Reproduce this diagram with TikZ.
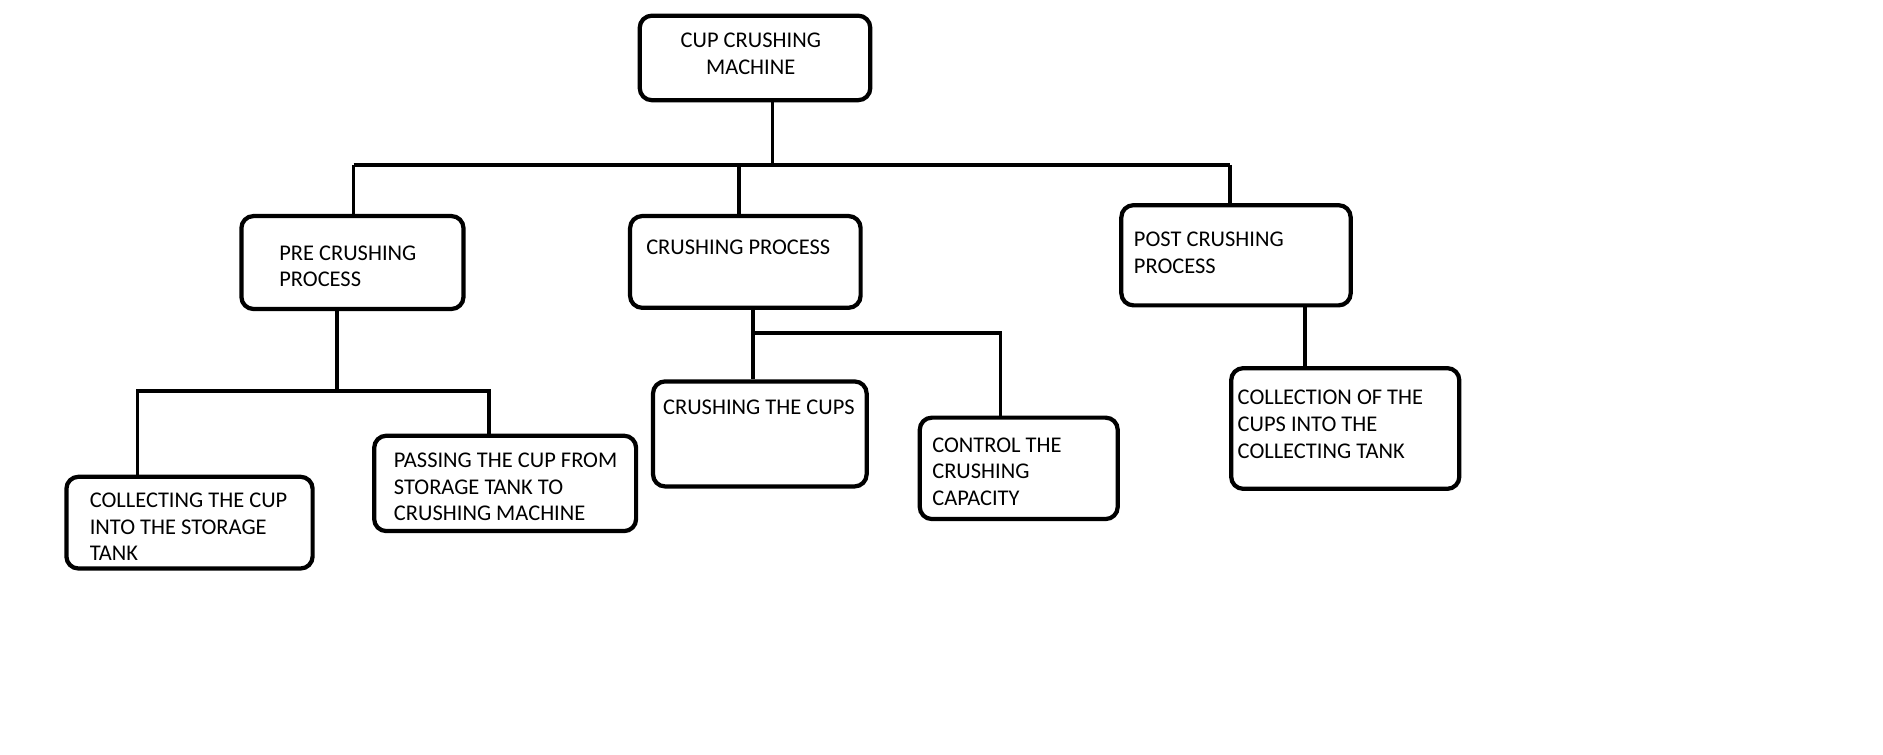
\documentclass[tikz,border=0pt]{standalone}
\usepackage{fontspec}
\setmainfont{Carlito}
\begin{document}
\begin{tikzpicture}[x=0.5pt,y=-0.5pt,
  box/.style={draw=black, line width=1.75pt, rounded corners=5pt, inner sep=0pt},
  txt/.style={inner sep=0pt, align=left, anchor=north west, font=\fontsize{9.3pt}{11pt}\selectfont},
  link/.style={draw=black, line width=1.5pt}]
\useasboundingbox (0,0) rectangle (1560,624.7);
\fill[white] (0,0) rectangle (1560,624.7);
% boxes
\node[box, minimum width=95.5pt, minimum height=35pt]   (root)  at (625.5,48) {};
\node[box, minimum width=92pt,   minimum height=38.5pt] (pre)   at (292,217.5) {};
\node[box, minimum width=95.5pt, minimum height=38pt]   (crush) at (617.5,217) {};
\node[box, minimum width=95pt,   minimum height=41.5pt] (post)  at (1024,211.5) {};
\node[box, minimum width=102pt,  minimum height=38pt]   (coll)  at (157,433) {};
\node[box, minimum width=108.5pt,minimum height=39.5pt] (pass)  at (418.5,400.5) {};
\node[box, minimum width=88.5pt, minimum height=43.5pt] (cups)  at (629.5,359.5) {};
\node[box, minimum width=82pt,   minimum height=42pt]   (ctrl)  at (844,388) {};
\node[box, minimum width=94.5pt, minimum height=50pt]   (collt) at (1114.5,355) {};
% texts
\node[txt, align=center, anchor=north] (rootT) at (622,27) {CUP CRUSHING\\MACHINE};
\node[txt] (preT)   at (231,203) {PRE CRUSHING\\PROCESS};
\node[txt] (crushT) at (535,198) {CRUSHING PROCESS};
\node[txt] (postT)  at (939,192) {POST CRUSHING\\PROCESS};
\node[txt] (collT)  at (74,408)  {COLLECTING THE CUP\\INTO THE STORAGE\\TANK};
\node[txt] (passT)  at (326,375) {PASSING THE CUP FROM\\STORAGE TANK TO\\CRUSHING MACHINE};
\node[txt] (cupsT)  at (549,331) {CRUSHING THE CUPS};
\node[txt] (ctrlT)  at (772,362) {CONTROL THE\\CRUSHING\\CAPACITY};
\node[txt] (colltT) at (1025,323) {COLLECTION OF THE\\CUPS INTO THE\\COLLECTING TANK};
% junctions
\coordinate (j1)   at (640,136.5);
\coordinate (busL) at (293,136.5);
\coordinate (busC) at (612,136.5);
\coordinate (busR) at (1019,136.5);
\coordinate (preJ) at (279,324);
\coordinate (preL) at (114,324);
\coordinate (preR) at (405,324);
\coordinate (crJ)  at (624,276);
\coordinate (crR)  at (829,276);
\coordinate (poJ)  at (1081,300);
% connectors
\draw[link] (root.south -| j1) -- (j1);
\draw[link] (busL) -- (busR);
\draw[link] (busL) -- (busL |- pre.north);
\draw[link] (busC) -- (busC |- crush.north);
\draw[link] (busR) -- (busR |- post.north);
\draw[link] (preJ |- pre.south) -- (preJ);
\draw[link] (preL |- coll.north) -- (preL) -- (preR) -- (preR |- pass.north);
\draw[link] (crJ |- crush.south) -- (crJ |- cups.north);
\draw[link] (crJ) -- (crR) -- (crR |- ctrl.north);
\draw[link] (poJ |- post.south) -- (poJ |- collt.north);
\end{tikzpicture}
\end{document}
